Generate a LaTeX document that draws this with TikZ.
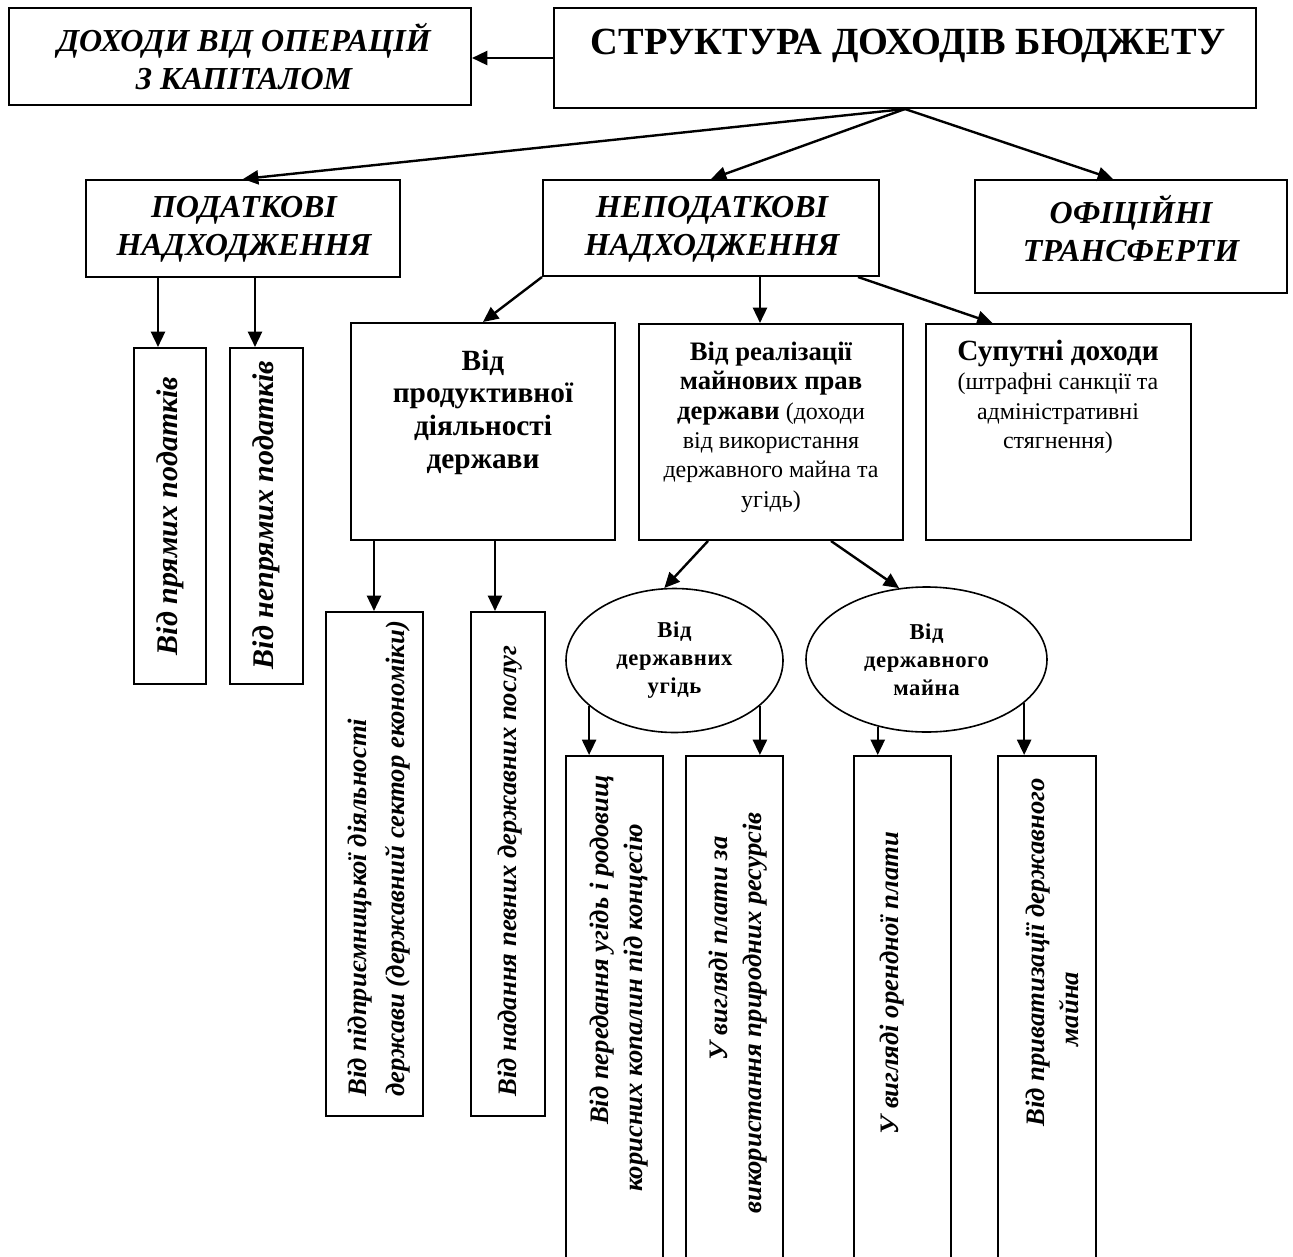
\documentclass[tikz,border=0pt]{standalone}
\usepackage{fontspec}
\setmainfont{Liberation Serif}
\newfontfamily\ovalfont[LetterSpace=2.5]{Liberation Serif}
\usetikzlibrary{arrows.meta,fit,calc,shapes.geometric}

\tikzset{every picture/.style={line width=0.75pt}}
\tikzset{
  frame/.style={draw, line width=1.5pt, inner sep=0pt},
  oval/.style={draw, ellipse, line width=1.2pt, inner sep=0pt, align=center,
    font=\ovalfont\fontsize{17}{21}\selectfont\bfseries},
  link/.style={line width=1.8pt, -{Triangle[length=11.5pt,width=10.5pt]}},
  head/.style={inner sep=0pt, align=center, font=\fontsize{24}{28.5}\selectfont\bfseries\itshape},
  vtext/.style={rotate=90, inner sep=0pt, align=center},
  vbig/.style={font=\fontsize{22.5}{27}\selectfont\bfseries\itshape},
  vmid/.style={font=\fontsize{20}{28}\selectfont\bfseries\itshape},
  vsmall/.style={font=\fontsize{20}{25.5}\selectfont\bfseries\itshape},
  boxtext/.style={inner sep=0pt, align=center, font=\fontsize{18}{22}\selectfont},
}
\newcommand{\bbig}[1]{{\fontsize{20}{22}\selectfont\bfseries #1}}

\begin{document}
\begin{tikzpicture}[x=0.75pt,y=0.75pt,yscale=-1,xscale=1]
\useasboundingbox (0,0) rectangle (1293,1257);
\clip (0,0) rectangle (1293,1257);

%Shape: Rectangle [id:dp5118230947]
\node[frame, fit={(9,8) (471,105)}] (cap) {};
% Text Node
\node[head] (capT) at (244,57) {ДОХОДИ ВІД ОПЕРАЦІЙ\\З КАПІТАЛОМ};
%Shape: Rectangle [id:dp3307712645]
\node[frame, fit={(554,8) (1256,108)}] (main) {};
% Text Node
\node[inner sep=0pt, font=\fontsize{28.8}{32}\selectfont\bfseries] (mainT) at (908,46) {СТРУКТУРА ДОХОДІВ БЮДЖЕТУ};
%Straight Lines [id:da8812403751]
\draw[link] (main.west) -- (main.west -| cap.east);

%Shape: Rectangle [id:dp0427761198]
\node[frame, fit={(86,180) (400,277)}] (pod) {};
\node[head] (podT) at (244,229) {ПОДАТКОВІ\\НАДХОДЖЕННЯ};
%Shape: Rectangle [id:dp6650132894]
\node[frame, fit={(543,180) (879,276)}] (nepod) {};
\node[head] (nepodT) at (712,229) {НЕПОДАТКОВІ\\НАДХОДЖЕННЯ};
%Shape: Rectangle [id:dp2290475513]
\node[frame, fit={(975,180) (1287,293)}] (ofic) {};
\node[head] (oficT) at (1131,229) {ОФІЦІЙНІ\\ТРАНСФЕРТИ};

%Straight Lines [id:da1940238576]
\draw[link] (main.south) -- (pod.north);
\draw[link] (main.south) -- (nepod.north);
\draw[link] (main.south) -- ($(ofic.north)+(-18,0)$);

%Shape: Rectangle [id:dp7781520346]
\node[frame, fit={(134,348) (206,684)}] (pryam) {};
\node[vtext, vbig] (pryamT) at (170,516) {Від прямих податків};
%Shape: Rectangle [id:dp9034417285]
\node[frame, fit={(230,348) (303,684)}] (nepryam) {};
\node[vtext, vbig] (nepryamT) at (266,515) {Від непрямих податків};
%Straight Lines [id:da3356120984]
\coordinate (c1) at (158,0);
\coordinate (c2) at (255,0);
\draw[link] (c1 |- pod.south) -- (c1 |- pryam.north);
\draw[link] (c2 |- pod.south) -- (c2 |- nepryam.north);

%Shape: Rectangle [id:dp4412096573]
\node[frame, fit={(351,323) (615,540)}] (prod) {};
\node[inner sep=0pt, align=center, font=\fontsize{22}{24.5}\selectfont\bfseries] (prodT) at (483,412) {Від\\продуктивної\\діяльності\\держави};
%Shape: Rectangle [id:dp1275603389]
\node[frame, fit={(639,324) (903,540)}] (real) {};
\node[boxtext] (realT) at (771,427) {\bbig{Від реалізації}\\\bbig{майнових прав}\\\bbig{держави} (доходи\\від використання\\державного майна та\\угідь)};
%Shape: Rectangle [id:dp8821765034]
\node[frame, fit={(926,324) (1191,540)}] (sup) {};
\node[boxtext] (supT) at (1058,397) {{\fontsize{22}{22}\selectfont\bfseries Супутні доходи}\\(штрафні санкції та\\адміністративні\\стягнення)};

%Straight Lines [id:da6604928817]
\draw[link] (nepod.south west) -- (prod.north);
\coordinate (c3) at (760,0);
\draw[link] (c3 |- nepod.south) -- (c3 |- real.north);
\draw[link] ($(nepod.south east)+(-22,0)$) -- ($(sup.north)+(-66,0)$);

%Shape: Ellipse [id:dp3918472056]
\node[oval, minimum width=162.75pt, minimum height=108pt] (ug) at (674.5,660.5) {Від\\державних\\угідь};
%Shape: Ellipse [id:dp5547310982]
\node[oval, minimum width=180.75pt, minimum height=108.75pt] (mayno) at (926.5,659.5) {Від\\державного\\майна};
%Straight Lines [id:da2473309165]
\draw[link] ($(real.south west)+(70,0)$) -- (ug.98);
\draw[link] ($(real.south east)+(-73,0)$) -- (mayno.111);

%Shape: Rectangle [id:dp0913374526]
\node[frame, fit={(326,612) (423,1116)}] (pidpr) {};
\node[vtext, vmid, anchor=west, align=left] (pidprT) at (379,1097) {Від підприємницької діяльності\\держави (державний сектор економіки)};
%Shape: Rectangle [id:dp6125907438]
\node[frame, fit={(471,612) (545,1116)}] (nadan) {};
\node[vtext, vmid, anchor=west] (nadanT) at (510,1097) {Від надання певних державних послуг};
%Straight Lines [id:da7720194561]
\coordinate (c4) at (374,0);
\coordinate (c5) at (495,0);
\draw[link] (c4 |- prod.south) -- (c4 |- pidpr.north);
\draw[link] (c5 |- prod.south) -- (c5 |- nadan.north);

%Shape: Rectangle [id:dp2584401937]
\node[frame, fit={(566,756) (663,1300)}] (pered) {};
\node[vtext, vsmall] (peredT) at (619,1008) {\hspace*{87pt}Від передання угідь і родовищ\\корисних копалин під концесію};
%Shape: Rectangle [id:dp8436620175]
\node[frame, fit={(686,756) (783,1300)}] (plata) {};
\node[vtext, vsmall] (plataT) at (738,1013) {\hspace*{97pt}У вигляді плати за\\використання природних ресурсів};
%Shape: Rectangle [id:dp1179032846]
\node[frame, fit={(854,756) (951,1300)}] (orend) {};
\node[vtext, vsmall] (orendT) at (892,983) {У вигляді орендної плати};
%Shape: Rectangle [id:dp6390241758]
\node[frame, fit={(998,756) (1096,1300)}] (pryv) {};
\node[vtext, vsmall] (pryvT) at (1052,1009) {\hspace*{85pt}Від приватизації державного\\майна};

%Straight Lines [id:da9035216647]
\draw[link] (ug.208) -- (ug.208 |- pered.north);
\draw[link] (ug.332) -- (ug.332 |- plata.north);
\draw[link] (mayno.234) -- (mayno.234 |- orend.north);
\draw[link] (mayno.336) -- (mayno.336 |- pryv.north);

\end{tikzpicture}
\end{document}
